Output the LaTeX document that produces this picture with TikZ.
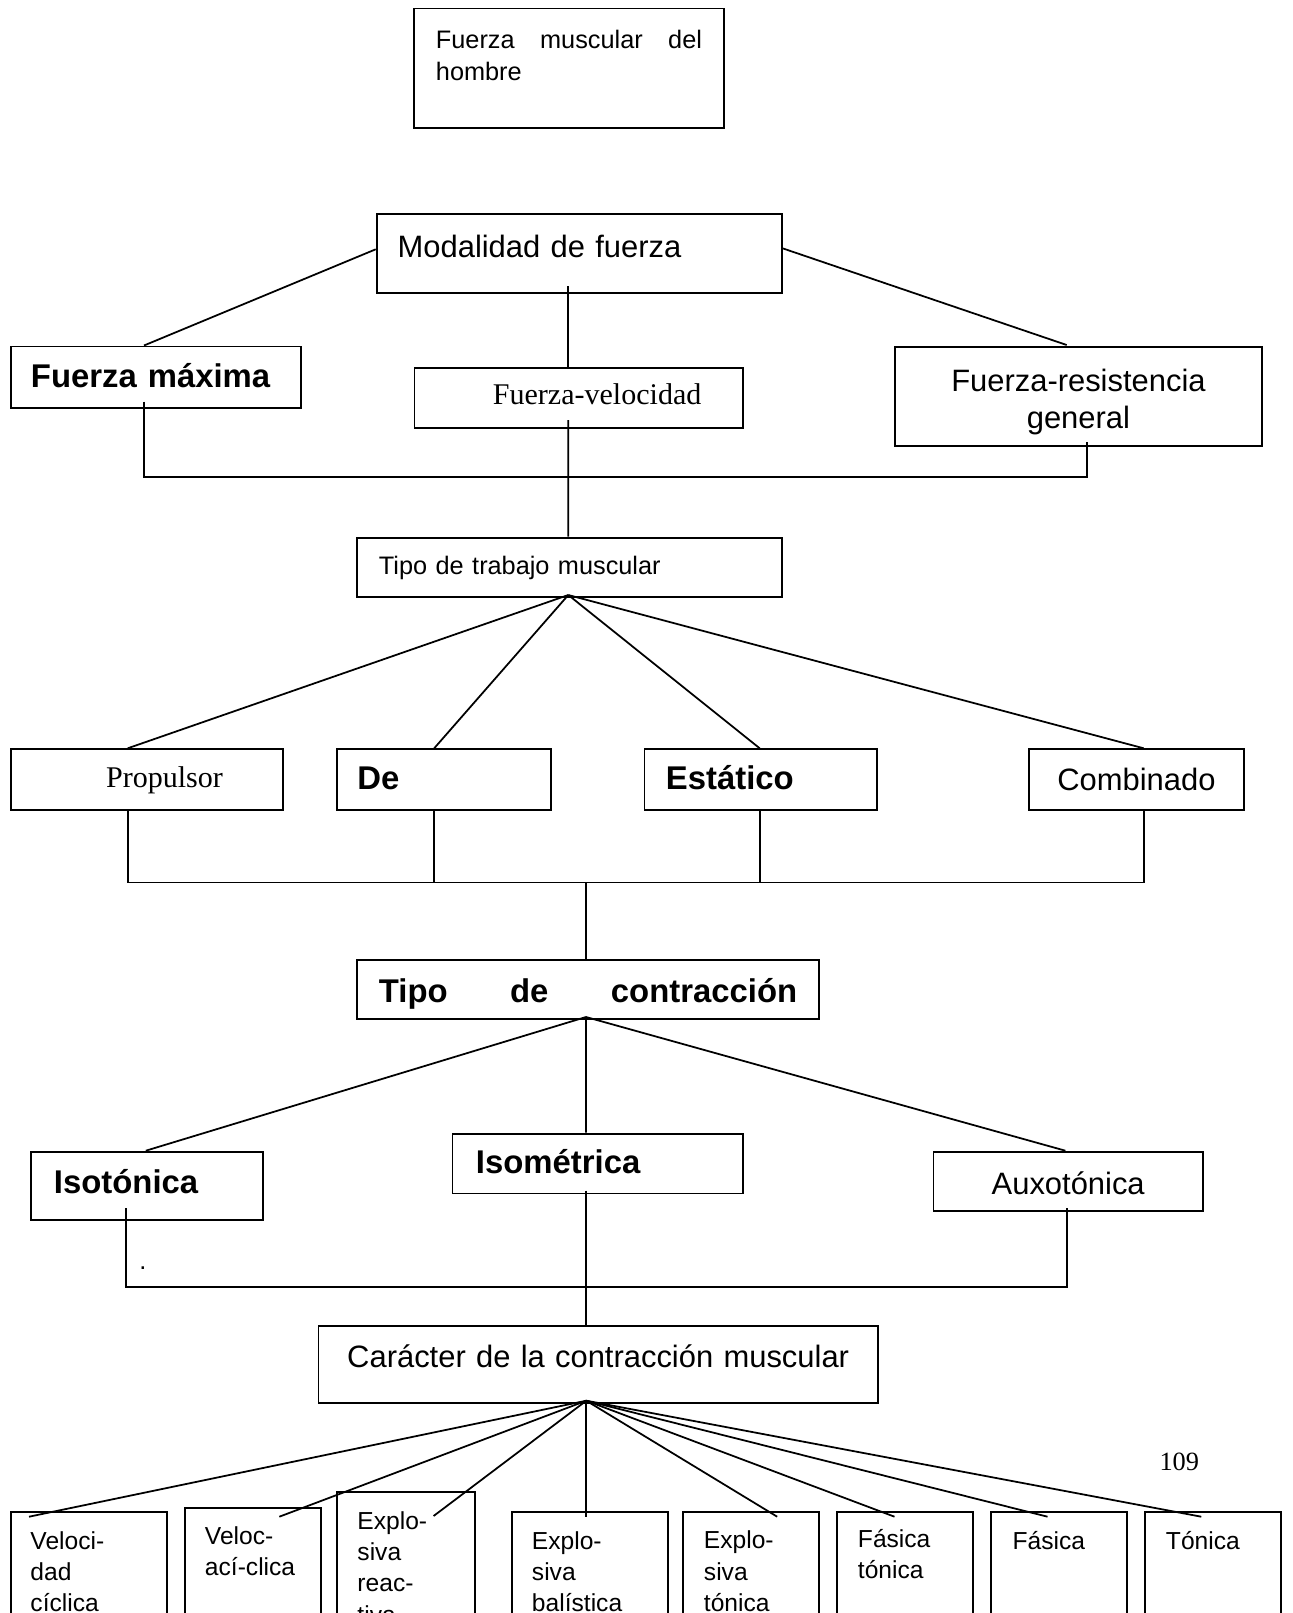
\documentclass[tikz,border=0pt]{standalone}
\usepackage{fontspec}
\setmainfont{Liberation Sans}
\newfontfamily\romana{Liberation Serif}

\begin{document}
\begin{tikzpicture}[x=0.02cm, y=-0.02cm,
      caja/.style={draw=black, line width=1.1pt, inner ysep=0pt, anchor=north west, align=left},
      linea/.style={draw=black, line width=1pt},
      texto/.style={font=\fontsize{17.6}{21}\selectfont},
      chica/.style={font=\fontsize{14.4}{18.4}\selectfont},
      negrita/.style={font=\fontsize{18.7}{22}\selectfont\bfseries},
      romana/.style={font=\fontsize{17.1}{20}\selectfont\romana},
      baja/.style={font=\fontsize{14}{17.8}\selectfont}]

    \useasboundingbox (0,0) rectangle (1292,1613);
    \clip (0,0) rectangle (1292,1613);

    % top boxes
    \node[caja, chica, inner xsep=0.432cm, text width=5.322cm, text height=0.804cm, text depth=1.58cm]
          (musc) at (413.4,7.5) {\makebox[5.322cm][l]{Fuerza\hfill muscular\hfill del}\\hombre};
    \node[caja, texto, inner xsep=0.42cm, text width=7.26cm, text height=0.88cm, text depth=0.7cm]
          (mod) at (375.7,212.7) {Modalidad de fuerza};

    % modalities
    \node[caja, negrita, inner xsep=0.4cm, text width=5.0cm, text height=0.83cm, text depth=0.394cm]
          (fmax) at (10,345.5) {Fuerza máxima};
    \node[caja, romana, align=right, inner xsep=0.83cm, text width=4.91cm, text height=0.732cm, text depth=0.468cm]
          (fvel) at (413.5,366.7) {Fuerza-velocidad};
    \node[caja, texto, align=center, inner xsep=0.3cm, text width=6.728cm, text height=0.9cm, text depth=1.08cm]
          (fres) at (894.3,346) {Fuerza-resistencia\\general};

    \node[caja, chica, inner xsep=0.44cm, text width=7.614cm, text height=0.746cm, text depth=0.44cm]
          (trab) at (356,536.7) {Tipo de trabajo muscular};

    % work types
    \node[caja, romana, align=right, inner xsep=1.196cm, text width=3.044cm, text height=0.774cm, text depth=0.44cm]
          (prop) at (10,748.3) {Propulsor};
    \node[caja, negrita, inner xsep=0.404cm, text width=3.474cm, text height=0.814cm, text depth=0.4cm]
          (de) at (336.3,748.3) {De};
    \node[caja, negrita, inner xsep=0.43cm, text width=3.79cm, text height=0.814cm, text depth=0.4cm]
          (est) at (643.5,748.3) {Estático};
    \node[caja, texto, align=center, inner xsep=0.2cm, text width=3.9cm, text height=0.834cm, text depth=0.38cm]
          (comb) at (1028,748.3) {Combinado};

    \node[caja, negrita, inner xsep=0.44cm, text width=8.366cm, text height=0.854cm, text depth=0.332cm]
          (contr) at (356,959) {\makebox[8.366cm][l]{Tipo\hfill de\hfill contracción}};

    % contraction types
    \node[caja, negrita, inner xsep=0.46cm, text width=3.724cm, text height=0.84cm, text depth=0.526cm]
          (isot) at (30,1150.7) {Isotónica};
    \node[caja, negrita, inner xsep=0.47cm, text width=4.864cm, text height=0.8cm, text depth=0.396cm]
          (isom) at (451.5,1132.7) {Isométrica};
    \node[caja, texto, align=center, inner xsep=0.2cm, text width=4.99cm, text height=0.866cm, text depth=0.324cm]
          (auxo) at (932.5,1150.7) {Auxotónica};
    \node[anchor=base, inner sep=0pt, chica] (punto) at (143,1269) {.};

    \node[caja, texto, align=center, inner xsep=0.3cm, text width=10.59cm, text height=0.84cm, text depth=0.7cm]
          (car) at (317.5,1325) {Carácter de la contracción muscular};

    \node[romana, font=\fontsize{15}{18}\selectfont\romana] (pag) at (1179.3,1461.7) {109};

    % character boxes (cut by the page edge)
    \node[caja, baja, inner xsep=0.384cm, text width=2.346cm, text height=0.746cm, text depth=2.634cm]
          (b1) at (10.3,1511) {Veloci-\\dad\\cíclica};
    \node[caja, baja, inner xsep=0.4cm, text width=1.92cm, text height=0.732cm, text depth=2.734cm]
          (b2) at (184,1506.7) {Veloc-\\ací-clica};
    \node[caja, baja, inner xsep=0.406cm, text width=1.95cm, text height=0.746cm, text depth=3.034cm]
          (b3) at (336.2,1491) {Explo-\\siva\\reac-\\tiva};
    \node[caja, baja, inner xsep=0.404cm, text width=2.316cm, text height=0.746cm, text depth=2.634cm]
          (b4) at (510.8,1511) {Explo-\\siva\\balística};
    \node[caja, baja, inner xsep=0.42cm, text width=1.89cm, text height=0.746cm, text depth=2.64cm]
          (b5) at (682,1510.7) {Explo-\\siva\\tónica};
    \node[caja, baja, inner xsep=0.42cm, text width=1.88cm, text height=0.72cm, text depth=2.666cm]
          (b6) at (836,1510.7) {Fásica\\tónica};
    \node[caja, baja, inner xsep=0.432cm, text width=1.862cm, text height=0.752cm, text depth=2.634cm]
          (b7) at (990,1510.7) {Fásica};
    \node[caja, baja, inner xsep=0.42cm, text width=1.88cm, text height=0.752cm, text depth=2.634cm]
          (b8) at (1144,1510.7) {Tónica};

    % modalidad -> modalities
    \draw[linea] ([shift={(0,36.6)}]mod.north west) -- ([shift={(134,0)}]fmax.north west);
    \draw[linea] ([shift={(192.6,73.3)}]mod.north west) -- ([shift={(154.8,0)}]fvel.north west);
    \draw[linea] ([shift={(0,35.6)}]mod.north east) -- ([shift={(172.4,-1)}]fres.north west);
    % modalities -> trabajo
    \draw[linea] ([shift={(134,56.2)}]fmax.north west) -- ++(0,75.6) -| ([shift={(192.4,95.7)}]fres.north west);
    \draw[linea] ([shift={(154.8,53.3)}]fvel.north west) -- ([shift={(212.3,0)}]trab.north west);

    % trabajo -> work types
    \foreach \n/\dx in {prop/117.7, de/97.9, est/116.2, comb/115.7}
      \draw[linea] ([shift={(212.3,58.3)}]trab.north west) -- ([shift={(\dx,0)}]\n.north west);
    \draw[linea] ([shift={(117.7,60.7)}]prop.north west) -- ++(0,73.6) -| ([shift={(115.7,60.7)}]comb.north west);
    \draw[linea] ([shift={(97.9,60.7)}]de.north west) -- ++(0,73.6);
    \draw[linea] ([shift={(116.2,60.7)}]est.north west) -- ++(0,73.6);
    \draw[linea] ([shift={(230,0)}]contr.north west) -- ++(0,-76.4);

    % contraccion -> contraction types
    \foreach \n/\dx in {isot/115.8, isom/134.5, auxo/132.9}
      \draw[linea] ([shift={(230,58)}]contr.north west) -- ([shift={(\dx,0)}]\n.north west);
    \draw[linea] ([shift={(95.7,57.6)}]isot.north west) -- ++(0,79) -| ([shift={(134.5,57.6)}]auxo.north west);
    \draw[linea] ([shift={(134.5,58)}]isom.north west) -- ([shift={(268.5,0)}]car.north west);

    % caracter -> character boxes
    \foreach \n/\dx/\dy in {b1/18.7/5.7, b2/95.3/10, b3/97.4/25, b4/75.5/5.7,
                            b5/95.2/6, b6/58.5/6, b7/57.5/6, b8/57.3/6}
      \draw[linea] ([shift={(268.8,75.7)}]car.north west) -- ([shift={(\dx,\dy)}]\n.north west);
\end{tikzpicture}
\end{document}
